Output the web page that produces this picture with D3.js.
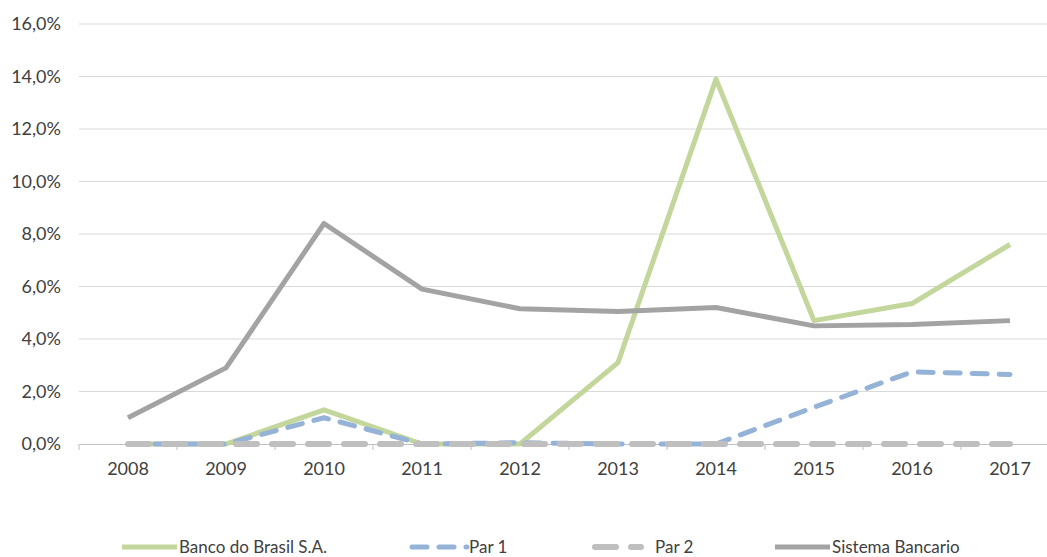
<!DOCTYPE html>
<html>
<head>
<meta charset="utf-8">
<script src="https://cdn.jsdelivr.net/npm/d3@7"></script>
<style>
body { margin: 0; background: #fff; overflow: hidden; }
text { font-family: Lato, "Open Sans", sans-serif; fill: #404040; }
</style>
</head>
<body>
<script>
var years = ["2008", "2009", "2010", "2011", "2012", "2013", "2014", "2015", "2016", "2017"];
var banco = [0, 0, 1.3, 0, 0, 3.1, 13.9, 4.7, 5.35, 7.6];
var par1 = [0, 0, 1.0, 0, 0.05, 0, 0, 1.4, 2.75, 2.65];
var par2 = [0, 0, 0, 0, 0, 0, 0, 0, 0, 0];
var sistema = [1.0, 2.9, 8.4, 5.9, 5.15, 5.05, 5.2, 4.5, 4.55, 4.7];
var yTicks = [0, 2, 4, 6, 8, 10, 12, 14, 16];

var series = [
	{name: "Banco do Brasil S.A.", values: banco, color: "#c3d69b", width: 5, dash: null, cap: "butt"},
	{name: "Par 1", values: par1, color: "#95b3d7", width: 5, dash: "15,12", cap: "round"},
	{name: "Par 2", values: par2, color: "#bfbfbf", width: 6, dash: "21,15", cap: "round"},
	{name: "Sistema Bancario", values: sistema, color: "#a3a3a3", width: 5, dash: null, cap: "butt"}
];

var W = 1047, H = 557;
// plot area runs a little past the right edge of the picture, as in the original
var margin = {top: 24, left: 79},
	width = 980,
	height = 420;

var svg = d3.select("body").append("svg")
	.attr("width", W)
	.attr("height", H)
	.append("g")
	.attr("transform", "translate(" + margin.left + "," + margin.top + ")");

var x = d3.scaleBand().domain(years).range([0, width]);
var y = d3.scaleLinear().domain([0, 16]).range([height, 0]);

//	gridlines
svg.append("g").selectAll("line")
	.data(yTicks.filter(function(d) { return d > 0; }))
	.enter().append("line")
	.attr("x1", 0).attr("x2", width)
	.attr("y1", function(d) { return y(d); })
	.attr("y2", function(d) { return y(d); })
	.attr("stroke", "#d9d9d9")
	.attr("stroke-width", 1);

//	y labels
var yAxis = svg.append("g")
	.call(d3.axisLeft(y).tickValues(yTicks).tickSize(0).tickPadding(18)
		.tickFormat(function(d) { return d3.format(".1f")(d).replace(".", ",") + "%"; }));
yAxis.select(".domain").remove();
yAxis.selectAll("text").style("font-size", "18px").attr("fill", "#404040");

//	x axis
var xAxis = svg.append("g")
	.attr("transform", "translate(0," + height + ")")
	.call(d3.axisBottom(x).tickSize(0).tickPadding(18));
xAxis.select(".domain").attr("stroke", "#bfbfbf");
xAxis.selectAll("text").style("font-size", "18px").attr("fill", "#404040");

svg.append("g").selectAll("line")
	.data(years)
	.enter().append("line")
	.attr("x1", function(d) { return x(d); })
	.attr("x2", function(d) { return x(d); })
	.attr("y1", height).attr("y2", height + 6)
	.attr("stroke", "#bfbfbf");

var line = d3.line()
	.x(function(d, i) { return x(years[i]) + x.bandwidth() / 2; })
	.y(function(d) { return y(d); });

svg.append("g").selectAll("path")
	.data(series)
	.enter().append("path")
	.attr("d", function(d) { return line(d.values); })
	.attr("fill", "none")
	.attr("stroke", function(d) { return d.color; })
	.attr("stroke-width", function(d) { return d.width; })
	.attr("stroke-dasharray", function(d) { return d.dash; })
	.attr("stroke-linecap", function(d) { return d.cap; })
	.attr("stroke-linejoin", "round");

//	legend
var legendX = [122, 412, 595, 775];
var legend = d3.select("svg").append("g")
	.selectAll("g")
	.data(series)
	.enter().append("g")
	.attr("transform", function(d, i) { return "translate(" + legendX[i] + ",547)"; });

legend.append("line")
	.attr("x1", 0).attr("x2", function(d, i) { return i == 2 ? 46 : 55; })
	.attr("stroke", function(d) { return d.color; })
	.attr("stroke-width", function(d) { return d.width; })
	.attr("stroke-dasharray", function(d) { return d.dash; })
	.attr("stroke-linecap", function(d) { return d.cap; });

legend.append("text")
	.attr("x", function(d, i) { return i == 2 ? 60 : 57; })
	.attr("y", 6)
	.style("font-size", "17px")
	.text(function(d) { return d.name; });
</script>
</body>
</html>
